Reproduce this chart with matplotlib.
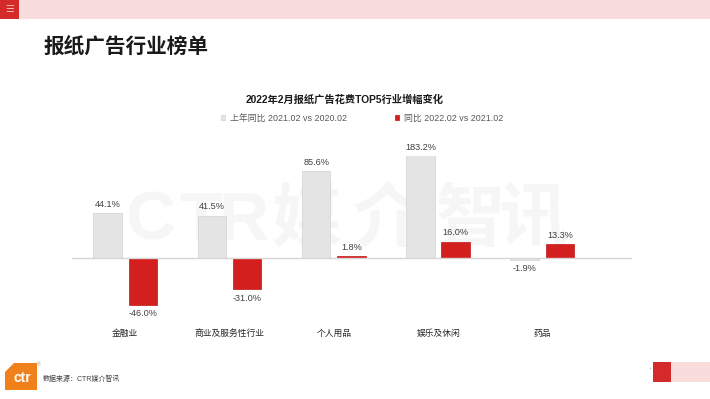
import numpy as np
import matplotlib.pyplot as plt
from matplotlib.patches import Rectangle, Polygon

plt.rcParams['font.family'] = ['Liberation Sans', 'Noto Sans CJK SC', 'DejaVu Sans']

# data
categories = ['金融业', '商业及服务性行业', '个人用品', '娱乐及休闲', '药品']
prev_yoy = [44.1, 41.5, 85.6, 183.2, -1.9]     # 上年同比 2021.02 vs 2020.02
curr_yoy = [-46.0, -31.0, 1.8, 16.0, 13.3]     # 同比 2022.02 vs 2021.02
prev_label = '上年同比 2021.02 vs 2020.02'
curr_label = '同比 2022.02 vs 2021.02'
watermark = ['C', 'T', 'R', '媒', '介', '智', '讯']

W, H = 710, 399
fig = plt.figure(figsize=(W / 100, H / 100), dpi=100)
fig.patch.set_facecolor('white')


def fx(x):
    return x / W


def fy(y):
    return 1 - y / H


# page decorations
fig.add_artist(Rectangle((0, fy(19)), 1, 19 / H, transform=fig.transFigure,
                         facecolor='#f9dcdc', edgecolor='none'))
fig.add_artist(Rectangle((0, fy(19)), 19 / W, 19 / H, transform=fig.transFigure,
                         facecolor='#d42a2a', edgecolor='none'))
fig.text(fx(9.5), fy(9.5), '☰', color='#f5b5b5', fontsize=7, ha='center', va='center',
         family='DejaVu Sans')

fig.text(fx(44), fy(46), '报纸广告行业榜单', fontsize=14.9, fontweight='bold',
         color='#1a1a1a', ha='left', va='center')

# chart area
ytop, ybot = 100, -62
ax = fig.add_axes([fx(72), fy(321), (632 - 72) / W, 165 / H])
ax.set_xlim(-0.51, 4.86)
ax.set_ylim(ybot, ytop)
for s in ax.spines.values():
    s.set_visible(False)
ax.set_yticks([])
ax.tick_params(axis='x', length=0, pad=6, labelsize=6.3, labelcolor='#262626')

# watermark behind the bars
wm_x = [150, 200, 243, 306, 388, 471, 533]
for ch, px in zip(watermark, wm_x):
    ax.text(fx(px), fy(222), ch, transform=fig.transFigure, fontsize=50,
            fontweight='bold', color='#f6f6f6', ha='center', va='center',
            zorder=0, clip_on=False)

x = np.arange(len(categories))
w = 0.273
off = 0.169
b1 = ax.bar(x - off, prev_yoy, w, color='#e4e4e4', edgecolor='#d2d2d2',
            linewidth=0.5, zorder=2, label=prev_label)
b2 = ax.bar(x + off, curr_yoy, w, color='#d41f1f', edgecolor='#c01818',
            linewidth=0.5, zorder=2, label=curr_label)
ax.axhline(0, color='#d6d6d6', linewidth=1.0, zorder=3)

ax.set_xticks(x)
ax.set_xticklabels(categories)

for xs, vals in ((x - off, prev_yoy), (x + off, curr_yoy)):
    for xi, v in zip(xs, vals):
        yv = min(v, ytop)
        if v >= 0:
            ax.annotate(f'{v:.1f}%', (xi, yv), xytext=(0, 3), textcoords='offset points',
                        ha='center', va='bottom', fontsize=6.6, color='#404040',
                        annotation_clip=False, zorder=4)
        else:
            ax.annotate(f'{v:.1f}%', (xi, yv), xytext=(0, -3), textcoords='offset points',
                        ha='center', va='top', fontsize=6.6, color='#404040',
                        annotation_clip=False, zorder=4)

fig.text(fx(345), fy(100), '2022年2月报纸广告花费TOP5行业增幅变化', fontsize=7.4,
         fontweight='bold', color='#1a1a1a', ha='center', va='center')

fig.legend(handles=[b1, b2], loc='center', bbox_to_anchor=(fx(362), fy(118)),
           ncol=2, frameon=False, fontsize=6.4, labelcolor='#595959',
           handlelength=0.5, handleheight=0.5, handletextpad=0.5,
           columnspacing=5.4)

# footer
fig.add_artist(Polygon([(fx(5), fy(372)), (fx(14), fy(363)), (fx(37), fy(363)),
                        (fx(37), fy(390)), (fx(5), fy(390))], closed=True,
                       transform=fig.transFigure, facecolor='#f08019', edgecolor='none'))
fig.text(fx(22), fy(378), 'ctr', color='white', fontsize=10, fontweight='bold',
         ha='center', va='center')
fig.text(fx(39), fy(365), '®', color='#999999', fontsize=3.5, ha='center', va='center')
fig.text(fx(43), fy(379), '数据来源：CTR媒介智讯', color='#404040', fontsize=5,
         ha='left', va='center')

fig.add_artist(Rectangle((fx(671), fy(382)), 39 / W, 20 / H, transform=fig.transFigure,
                         facecolor='#f9dcdc', edgecolor='none'))
fig.add_artist(Rectangle((fx(653), fy(382)), 18 / W, 20 / H, transform=fig.transFigure,
                         facecolor='#d42a2a', edgecolor='none'))
fig.text(fx(650), fy(368), '+', color='#bbbbbb', fontsize=3.5, ha='center', va='center')

fig.savefig('out.png', dpi=100)
